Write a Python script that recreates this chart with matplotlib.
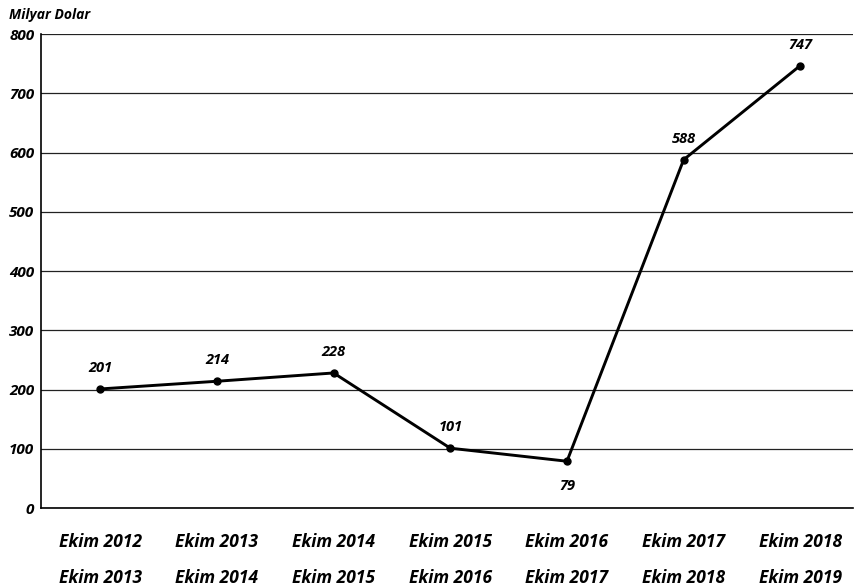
import matplotlib.pyplot as plt

periods_start = ['Ekim 2012', 'Ekim 2013', 'Ekim 2014', 'Ekim 2015', 'Ekim 2016', 'Ekim 2017', 'Ekim 2018']
periods_end = ['Ekim 2013', 'Ekim 2014', 'Ekim 2015', 'Ekim 2016', 'Ekim 2017', 'Ekim 2018', 'Ekim 2019']
values = [201, 214, 228, 101, 79, 588, 747]
yticks = [0, 100, 200, 300, 400, 500, 600, 700, 800]

plt.rcParams['font.family'] = ['Open Sans', 'DejaVu Sans']

fig = plt.figure(figsize=(8.58, 5.88), dpi=100)
ax = fig.add_axes([0.048, 0.136, 0.946, 0.806])

x = list(range(len(values)))
ax.plot(x, values, color='black', linewidth=2.1, marker='o', markersize=5, zorder=3)

for xi, v in zip(x, values):
    if v == 79:
        ax.annotate(str(v), (xi, v), xytext=(0, -23), textcoords='offset points',
                    ha='center', va='bottom', fontsize=10.5, fontweight='bold', style='italic')
    else:
        ax.annotate(str(v), (xi, v), xytext=(0, 10), textcoords='offset points',
                    ha='center', va='bottom', fontsize=10.5, fontweight='bold', style='italic')

ax.set_ylim(0, 800)
ax.set_xlim(-0.506, 6.45)
ax.set_yticks(yticks)
ax.set_yticklabels([str(t) for t in yticks], fontsize=11, fontweight='bold', style='italic')
ax.yaxis.grid(True, color='#222222', linewidth=0.9)
ax.set_axisbelow(True)

ax.set_xticks(x)
ax.set_xticklabels([a + '\n' + b for a, b in zip(periods_start, periods_end)],
                   fontsize=12.5, fontweight='bold', style='italic', linespacing=2.3)
ax.tick_params(axis='both', length=0)
ax.tick_params(axis='x', pad=18)
ax.tick_params(axis='y', pad=5)

for s in ['top', 'right']:
    ax.spines[s].set_visible(False)
ax.spines['left'].set_linewidth(1.2)
ax.spines['bottom'].set_linewidth(1.2)

fig.text(0.011, 0.975, 'Milyar Dolar', fontsize=10, fontweight='bold', style='italic', va='center')

fig.savefig('out.png', dpi=100)
